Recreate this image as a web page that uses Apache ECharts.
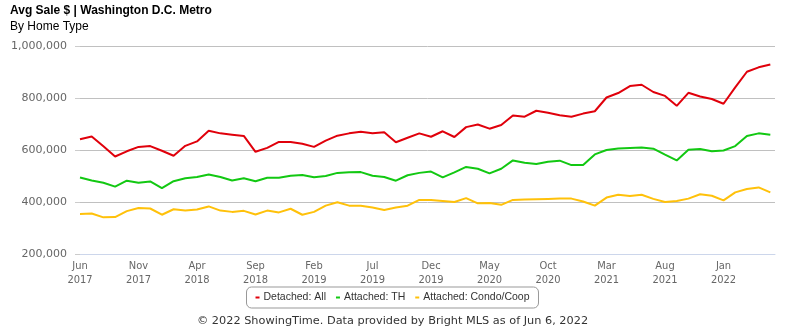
<!DOCTYPE html>
<html>
<head>
<meta charset="utf-8">
<script src="https://cdn.jsdelivr.net/npm/echarts@6/dist/echarts.min.js"></script>
<style>
html,body{margin:0;padding:0;background:#fff;}
#chart{width:785px;height:330px;}
</style>
</head>
<body>
<div id="chart"></div>
<script>
// Months from Jun 2017 to May 2022
const months = ['Jun 2017','Jul 2017','Aug 2017','Sep 2017','Oct 2017','Nov 2017','Dec 2017',
  'Jan 2018','Feb 2018','Mar 2018','Apr 2018','May 2018','Jun 2018','Jul 2018','Aug 2018','Sep 2018','Oct 2018','Nov 2018','Dec 2018',
  'Jan 2019','Feb 2019','Mar 2019','Apr 2019','May 2019','Jun 2019','Jul 2019','Aug 2019','Sep 2019','Oct 2019','Nov 2019','Dec 2019',
  'Jan 2020','Feb 2020','Mar 2020','Apr 2020','May 2020','Jun 2020','Jul 2020','Aug 2020','Sep 2020','Oct 2020','Nov 2020','Dec 2020',
  'Jan 2021','Feb 2021','Mar 2021','Apr 2021','May 2021','Jun 2021','Jul 2021','Aug 2021','Sep 2021','Oct 2021','Nov 2021','Dec 2021',
  'Jan 2022','Feb 2022','Mar 2022','Apr 2022','May 2022'];

const detachedAll = [641000,652000,614000,575000,595000,612000,615000,597000,578000,616000,
  633000,674000,664000,659000,654000,593000,608000,631000,631000,624000,
  612000,636000,655000,664000,670000,664000,668000,630000,647000,664000,
  651000,672000,650000,688000,698000,682000,696000,733000,728000,751000,
  743000,734000,728000,740000,749000,802000,819000,846000,851000,823000,
  808000,770000,820000,806000,796000,778000,841000,901000,918000,929000];

const attachedTH = [494000,483000,474000,459000,482000,474000,479000,453000,480000,491000,
  496000,506000,496000,483000,491000,480000,493000,493000,501000,504000,
  495000,500000,512000,514000,515000,501000,496000,482000,503000,512000,
  517000,495000,514000,535000,528000,510000,528000,560000,551000,546000,
  555000,559000,542000,542000,583000,600000,606000,608000,610000,605000,
  582000,560000,601000,604000,595000,598000,615000,654000,664000,659000];

const attachedCondo = [354000,356000,341000,342000,365000,377000,375000,351000,372000,367000,
  371000,383000,367000,362000,366000,352000,367000,360000,374000,351000,
  362000,386000,399000,386000,386000,379000,369000,379000,386000,408000,
  408000,404000,400000,415000,395000,396000,389000,408000,410000,411000,
  412000,413000,413000,402000,386000,417000,428000,423000,428000,412000,
  400000,404000,413000,430000,424000,406000,437000,450000,456000,437000];

const seriesNames = ['Detached: All','Attached: TH','Attached: Condo/Coop'];
const seriesColors = ['#e0000b','#12c812','#ffc10a'];
const yTicks = [200000,400000,600000,800000,1000000];

const chart = echarts.init(document.getElementById('chart'), null, {renderer:'canvas'});
const toPairs = arr => arr.map((v,i)=>[i,v]);
const allData = [detachedAll, attachedTH, attachedCondo];

const option = {
  animation: false,
  backgroundColor: '#fff',
  title: [
    {text: 'Avg Sale $ | Washington D.C. Metro', left: 5, top: 0,
     textStyle: {fontFamily: 'Liberation Sans, Arial', fontSize: 12, fontWeight: 'bold', color: '#000'}},
    {text: 'By Home Type', left: 5, top: 16,
     textStyle: {fontFamily: 'Liberation Sans, Arial', fontSize: 12, fontWeight: 'normal', color: '#000'}},
    {text: '© 2022 ShowingTime. Data provided by Bright MLS as of Jun 6, 2022', left: 'center', top: 311,
     textStyle: {fontFamily: 'DejaVu Sans', fontSize: 11.3, fontWeight: 'normal', color: '#333'}}
  ],
  legend: {
    data: seriesNames,
    left: 'center', top: 287,
    icon: 'rect', itemWidth: 4, itemHeight: 2, itemGap: 10,
    borderColor: '#999', borderWidth: 1, borderRadius: 5,
    padding: [5, 9, 5, 9],
    textStyle: {fontFamily: 'Liberation Sans, Arial', fontSize: 10.5, color: '#333', padding: [0,0,0,-1]}
  },
  grid: {left: 80, right: 10, top: 46, bottom: 76, containLabel: false},
  xAxis: {
    type: 'value', min: 0, max: 59.4, interval: 5,
    axisLine: {show: true, lineStyle: {color: '#ccd6eb'}},
    axisTick: {show: false},
    splitLine: {show: false},
    axisLabel: {
      color: '#666', fontFamily: 'DejaVu Sans Condensed, DejaVu Sans', fontSize: 11, lineHeight: 14, margin: 5,
      showMaxLabel: false,
      formatter: v => (Number.isInteger(v) && months[v]) ? months[v].replace(' ', '\n') : ''
    }
  },
  yAxis: {
    type: 'value', min: yTicks[0], max: yTicks[yTicks.length-1], interval: yTicks[1]-yTicks[0],
    axisLine: {show: false},
    axisTick: {show: true, length: 5, lineStyle: {color: '#ccc'}},
    splitLine: {lineStyle: {color: '#c0c0c0', width: 1}},
    axisLabel: {
      color: '#666', fontFamily: 'DejaVu Sans', fontSize: 11, margin: 13,
      formatter: v => v.toLocaleString('en-US')
    }
  },
  series: seriesNames.map((n, k) => ({
    name: n, type: 'line', data: toPairs(allData[k]),
    symbol: 'none', showSymbol: false,
    lineStyle: {width: 2, color: seriesColors[k]},
    itemStyle: {color: seriesColors[k]},
    z: 3 - k
  }))
};
chart.setOption(option);
</script>
</body>
</html>
